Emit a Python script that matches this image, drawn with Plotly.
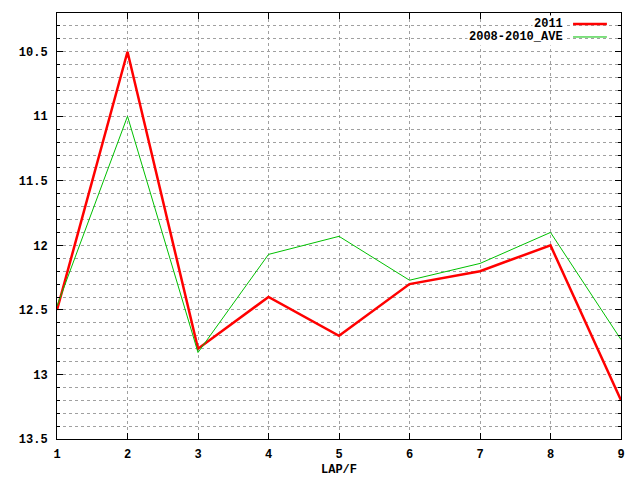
import plotly.graph_objects as go

laps = [1, 2, 3, 4, 5, 6, 7, 8, 9]
y2011 = [12.5, 10.5, 12.8, 12.4, 12.7, 12.3, 12.2, 12.0, 13.2]
yave = [12.47, 11.0, 12.83, 12.07, 11.93, 12.27, 12.14, 11.9, 12.73]
ytick_vals = [10.5, 11, 11.5, 12, 12.5, 13, 13.5]
ytick_text = ["10.5", "11", "11.5", "12", "12.5", "13", "13.5"]
series_names = ["2011", "2008-2010_AVE"]
colors = ["#ff0000", "#00c000"]
widths = [2.5, 1]

bold = dict(family="Liberation Mono", size=12, color="black", weight="bold")

fig = go.Figure()
for ys, name, c, w in zip([y2011, yave], series_names, colors, widths):
    fig.add_trace(go.Scatter(x=laps, y=ys, mode="lines", name=name,
                             line=dict(color=c, width=w), showlegend=False))

grid = dict(gridcolor="#a0a0a0", griddash="3px,3px", gridwidth=1)
fig.update_layout(
    width=640, height=480,
    margin=dict(l=57, r=19, t=13, b=41),
    paper_bgcolor="white", plot_bgcolor="white",
    font=dict(family="Liberation Mono", size=12, color="black"),
    xaxis=dict(range=[1, 9], tickvals=laps, ticktext=[str(v) for v in laps],
               showline=True, linecolor="black", linewidth=1, mirror="allticks",
               ticks="inside", ticklen=6, tickcolor="black", zeroline=False,
               showgrid=True, **grid, automargin=False,
               tickfont=bold, ticklabelstandoff=4),
    yaxis=dict(range=[13.5, 10.2], tickvals=ytick_vals, ticktext=ytick_text,
               showline=True, linecolor="black", linewidth=1, mirror="allticks",
               ticks="inside", ticklen=6, tickcolor="black", zeroline=False,
               showgrid=True, **grid, automargin=False,
               minor=dict(dtick=0.1, tick0=10.5, showgrid=True, ticks="inside", ticklen=3,
                          tickcolor="black", gridcolor="#a0a0a0", griddash="3px,3px"),
               tickfont=bold, ticklabelstandoff=6),
)

# x-axis title
fig.add_annotation(x=0.5, y=0, xref="paper", yref="paper", text="LAP/F", showarrow=False,
                   xanchor="center", yanchor="middle", yshift=-31, font=bold)

# manual legend (gnuplot style: text right, sample after text)
leg_y = [0.974, 0.9437]
for name, c, w, yy in zip(series_names, colors, widths, leg_y):
    fig.add_annotation(x=0.9007, y=yy, xref="paper", yref="paper", text=name,
                       showarrow=False, xanchor="right", yanchor="middle",
                       font=bold, bgcolor="white")
    fig.add_shape(type="line", xref="paper", yref="paper", x0=0.915, x1=0.975, y0=yy, y1=yy,
                  line=dict(color=c, width=w))

fig.write_html("out.html", config={"displayModeBar": False},
               post_script="document.body.style.margin='0';")
